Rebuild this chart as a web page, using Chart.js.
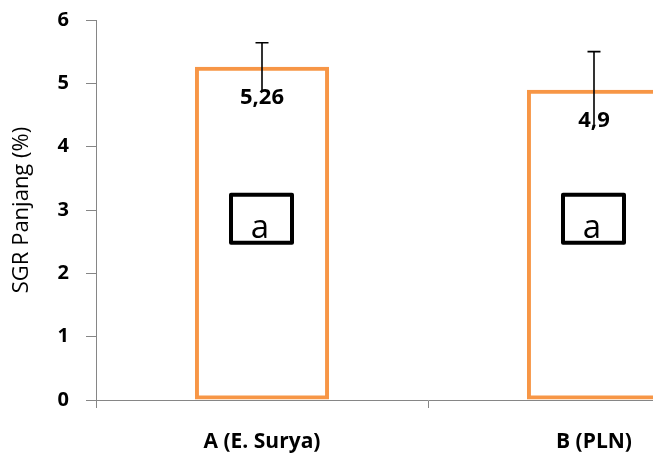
<!DOCTYPE html>
<html>
<head>
<meta charset="utf-8">
<script src="https://cdn.jsdelivr.net/npm/chart.js@4/dist/chart.umd.min.js"></script>
<style>
  html, body { margin: 0; padding: 0; background: #fff; overflow: hidden; }
  #wrap { width: 653px; height: 455px; overflow: hidden; }
</style>
</head>
<body>
<div id="wrap"><canvas id="sgr-chart" width="760" height="455"></canvas></div>
<script>
// data
var categories = ["A (E. Surya)", "B (PLN)"];
var sgrValues = [5.26, 4.9];
var sgrErrors = [0.38, 0.6];
var valueLabels = ["5,26", "4,9"];
var letters = ["a", "a"];
var yTicks = [0, 1, 2, 3, 4, 5, 6];

var FONT = "'Open Sans', sans-serif";

// error bars + value labels + letter boxes
var extrasPlugin = {
    id: 'extras',
    afterDatasetsDraw: function(chart) {
        var ctx = chart.ctx;
        var y = chart.scales.y;
        var meta = chart.getDatasetMeta(0);
        meta.data.forEach(function(bar, i) {
            var x = bar.x;
            var top = y.getPixelForValue(sgrValues[i] + sgrErrors[i]);
            var bot = y.getPixelForValue(sgrValues[i] - sgrErrors[i]);

            // value label
            ctx.save();
            ctx.fillStyle = '#000';
            ctx.font = 'bold 22px ' + FONT;
            ctx.textAlign = 'center';
            ctx.textBaseline = 'alphabetic';
            ctx.fillText(valueLabels[i], x, bar.y + 37);
            ctx.restore();

            // error bar
            ctx.save();
            ctx.strokeStyle = '#000';
            ctx.lineWidth = 1.6;
            ctx.beginPath();
            ctx.moveTo(x, top);
            ctx.lineTo(x, bot);
            ctx.moveTo(x - 6.5, top);
            ctx.lineTo(x + 6.5, top);
            ctx.stroke();
            ctx.restore();

            // letter box
            var cy = y.getPixelForValue(2.86);
            ctx.save();
            ctx.strokeStyle = '#000';
            ctx.lineWidth = 4;
            ctx.lineJoin = 'round';
            ctx.strokeRect(x - 31, cy - 24, 61, 48);
            ctx.fillStyle = '#000';
            ctx.font = '33px ' + FONT;
            ctx.textAlign = 'center';
            ctx.textBaseline = 'alphabetic';
            ctx.fillText(letters[i], x - 2, cy + 19);
            ctx.restore();
        });
    }
};

var ctx = document.getElementById('sgr-chart').getContext('2d');

var myChart = new Chart(ctx, {
    type: 'bar',
    data: {
        labels: categories,
        datasets: [{
            data: sgrValues,
            backgroundColor: 'rgba(255,255,255,0)',
            borderColor: '#F79646',
            borderWidth: 4,
            borderSkipped: false,
            categoryPercentage: 1,
            barPercentage: 0.404
        }]
    },
    options: {
        responsive: false,
        animation: false,
        layout: {
            padding: { left: 0, right: 0, top: 20, bottom: 0 }
        },
        scales: {
            y: {
                min: 0,
                max: 6,
                afterFit: function(scale) {
                    scale.width = 96;
                    scale.paddingTop = 0;
                    scale.paddingBottom = 0;
                },
                afterBuildTicks: function(scale) {
                    scale.ticks = yTicks.map(function(v) { return { value: v }; });
                },
                ticks: {
                    color: '#000',
                    padding: 17,
                    font: { family: FONT, size: 20, weight: 'bold' }
                },
                grid: {
                    drawOnChartArea: false,
                    tickLength: 10,
                    color: '#868686'
                },
                border: { color: '#868686', width: 1 },
                title: {
                    display: true,
                    text: 'SGR Panjang (%)',
                    color: '#000',
                    font: { family: FONT, size: 22 },
                    padding: { top: 9, bottom: 0 }
                }
            },
            x: {
                afterFit: function(scale) {
                    scale.height = 55;
                    scale.paddingLeft = 0;
                    scale.paddingRight = 0;
                },
                ticks: {
                    color: '#000',
                    padding: 21,
                    font: { family: FONT, size: 21, weight: 'bold' }
                },
                grid: {
                    drawOnChartArea: false,
                    tickLength: 8,
                    color: '#868686'
                },
                border: { color: '#868686', width: 1 }
            }
        },
        plugins: {
            legend: { display: false },
            tooltip: { enabled: false }
        }
    },
    plugins: [extrasPlugin]
});
</script>
</body>
</html>
